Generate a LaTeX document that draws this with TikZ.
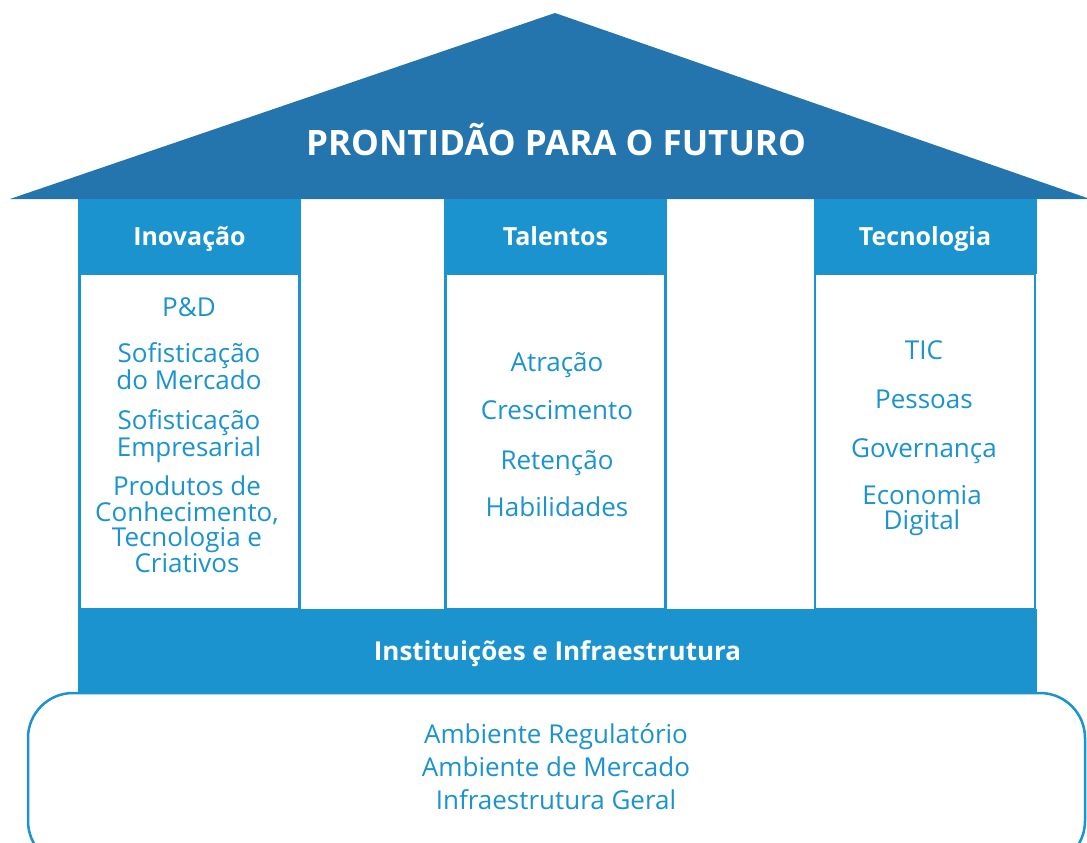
\documentclass[tikz,border=0pt]{standalone}
\usepackage{fontspec}
\setmainfont{Open Sans}
\definecolor{roofblue}{HTML}{2474AE}
\definecolor{pillarblue}{HTML}{1A93CF}
\tikzset{
  headbox/.style={rectangle, fill=pillarblue, text=white, inner sep=0pt, text height=18pt, text depth=0pt, minimum width=223pt, minimum height=75pt, font=\fontsize{25}{28}\selectfont\bfseries},
  pillarbody/.style={rectangle, draw=pillarblue, fill=white, line width=2.5pt, inner sep=0pt, minimum width=220pt, minimum height=335pt},
  itemtext/.style={text=pillarblue, align=center, inner sep=0pt, font=\fontsize{26}{25.5}\selectfont},
}
\begin{document}
\begin{tikzpicture}[x=1pt, y=-1pt]
    \useasboundingbox (0,0) rectangle (1087,843);
    \clip (0,0) rectangle (1087,843);

    % 屋根を描画
    \fill[roofblue] (10,199) -- (555,13) -- (1090,199) -- cycle;
    \node[text=white, font=\fontsize{35}{40}\selectfont\bfseries] (title) at (556,140) {PRONTIDÃO PARA O FUTURO};

    % 柱を描画
    \node[pillarbody] (inovbody) at (189.5,441.5) {};
    \node[pillarbody] (talbody) at (555.5,441.5) {};
    \node[pillarbody] (tecbody) at (925,441.5) {};
    \node[headbox] (inov) at (189.5,236.5) {Inovação};
    \node[headbox] (tal) at (555.5,236.5) {Talentos};
    \node[headbox] (tec) at (925,236.5) {Tecnologia};

    % 項目を描画
    \node[itemtext] (pd) at (189,307) {P\&D};
    \node[itemtext] (sofm) at (189,366.5) {Sofisticação\\do Mercado};
    \node[itemtext] (sofe) at (189,436) {Sofisticação\\Empresarial};
    \node[itemtext] (prod) at (187,524) {Produtos de\\Conhecimento,\\Tecnologia e\\Criativos};
    \node[itemtext] (atr) at (557,365) {Atração};
    \node[itemtext] (cres) at (557,410) {Crescimento};
    \node[itemtext] (ret) at (557,463) {Retenção};
    \node[itemtext] (hab) at (557,507) {Habilidades};
    \node[itemtext] (tic) at (924,350) {TIC};
    \node[itemtext] (pes) at (924,399) {Pessoas};
    \node[itemtext] (gov) at (924,451) {Governança};
    \node[itemtext] (eco) at (922,510.5) {Economia\\Digital};

    % 土台を描画
    \draw[pillarblue, line width=2.5pt, fill=white, rounded corners=45pt] (28,693) rectangle (1085,866);
    \node[rectangle, fill=pillarblue, text=white, inner sep=0pt, text height=18pt, text depth=0pt, minimum width=959pt, minimum height=84pt, font=\fontsize{26}{28}\selectfont\bfseries] (inst) at (557.5,651) {Instituições e Infraestrutura};
    \node[itemtext, font=\fontsize{26}{33}\selectfont] (amb) at (556,767) {Ambiente Regulatório\\Ambiente de Mercado\\Infraestrutura Geral};
\end{tikzpicture}
\end{document}
